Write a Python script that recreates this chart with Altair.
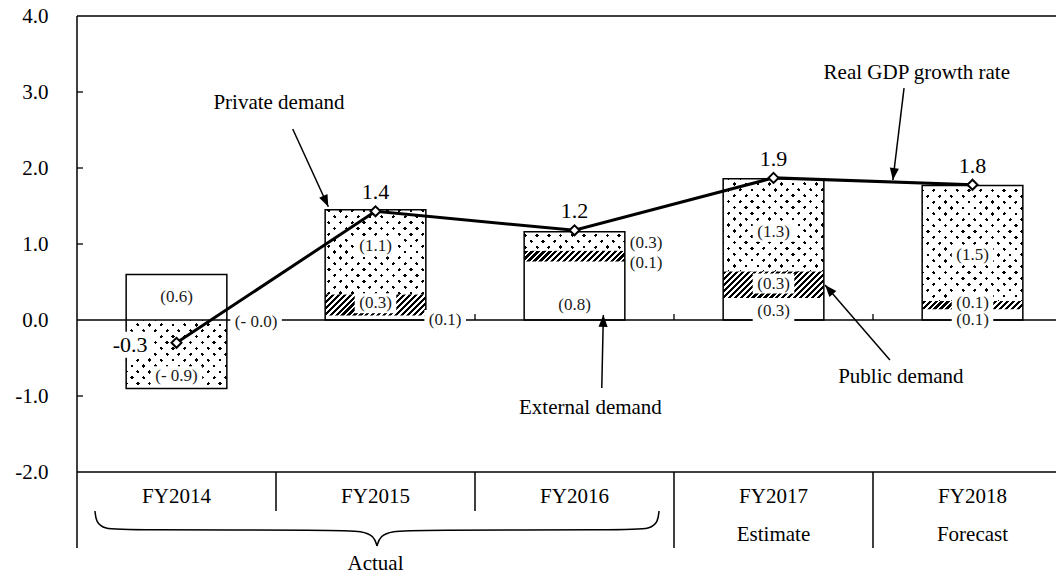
import math
import altair as alt
import pandas as pd

# ---------------- data ----------------
years = ["FY2014", "FY2015", "FY2016", "FY2017", "FY2018"]
sublabels = ["", "", "", "Estimate", "Forecast"]
external = [0.60, 0.06, 0.77, 0.29, 0.14]
public = [0.00, 0.28, 0.14, 0.35, 0.11]
private = [-0.90, 1.11, 0.25, 1.22, 1.52]
gdp = [-0.30, 1.43, 1.18, 1.87, 1.78]
gdp_text = ["-0.3", "1.4", "1.2", "1.9", "1.8"]

lab_year = [0, 0, 0, 1, 1, 1, 2, 2, 2, 3, 3, 3, 4, 4, 4]
lab_text = ["(0.6)", "(- 0.9)", "(- 0.0)", "(1.1)", "(0.3)", "(0.1)", "(0.3)", "(0.1)",
            "(0.8)", "(1.3)", "(0.3)", "(0.3)", "(1.5)", "(0.1)", "(0.1)"]
lab_y = [0.30, -0.74, -0.03, 0.97, 0.22, 0.0, 1.01, 0.75, 0.20, 1.16, 0.48, 0.12, 0.86, 0.22, 0.0]
lab_dx = [0, 0, 0.40, 0, 0, 0.35, 0.36, 0.36, 0, 0, 0, 0, 0, 0, 0]
lab_box = [False, True, True, True, True, True, False, False, False, True, True, True, True, True, True]

ann_text = ["Private demand", "Real GDP growth rate", "External demand", "Public demand"]
ann_x = [0.515, 3.72, 2.08, 3.64]
ann_y = [2.86, 3.25, -1.16, -0.75]
arr_x0 = [0.584, 3.656, 2.137, 3.585]
arr_y0 = [2.513, 3.05, -0.895, -0.526]
arr_x1 = [0.763, 3.600, 2.145, 3.259]
arr_y1 = [1.49, 1.842, 0.066, 0.46]

# ---------------- geometry ----------------
FONT = "Liberation Serif"
PX_X = 199.0
PX_Y = 76.0
W_PLOT = 979
H_PLOT = 532
XMIN = -0.5
XMAX = XMIN + W_PLOT / PX_X
HALF = 0.253
BAR_W_PX = 2 * HALF * PX_X

xs = alt.Scale(domain=[XMIN, XMAX], nice=False, zero=False)
ys = alt.Scale(domain=[-3, 4], nice=False, zero=False)

Y_AXIS = alt.Axis(
    values=[-2, -1, 0, 1, 2, 3, 4],
    labelExpr="(datum.value < 0 ? '-' : '') + format(abs(datum.value), '.1f')",
    labelFont=FONT, labelFontSize=21, labelColor="black",
    ticks=False, domain=False, grid=False, labelPadding=29, title=None,
)


def X(f):
    return alt.X(f, type="quantitative", scale=xs, axis=None)


def Y(f):
    return alt.Y(f, type="quantitative", scale=ys, axis=Y_AXIS, title=None)


def px2x(px):
    return (px - 77) / PX_X - 0.5


def px2y(py):
    return (320 - py) / PX_Y


def stripe_gradient(Wpx, Hpx, period, width, slope, on, off, phase):
    S = Wpx + Hpx
    k = S / (Wpx + Hpx * Hpx / Wpx)
    if slope == "/":
        x1, y1, x2, y2 = 0, 0, k, k * Hpx / Wpx
    else:
        x1, y1, x2, y2 = 0, 1, k, 1 - k * Hpx / Wpx
    P = period * math.sqrt(2)
    wd = width * math.sqrt(2)
    stops = [(0.0, off)]
    a = phase
    while a < S:
        o1 = a / S
        o2 = min((a + wd) / S, 1.0)
        stops += [(o1, off), (o1, on), (o2, on), (o2, off)]
        a += P
    stops.append((1.0, off))
    return alt.LinearGradient(
        gradient="linear",
        stops=[alt.GradientStop(offset=o, color=c) for o, c in stops],
        x1=x1, y1=y1, x2=x2, y2=y2,
    )


layers = []

# y axis carrier (first layer)
axis_df = pd.DataFrame({"y": [-2, 4], "x": [XMIN, XMIN]})
layers.append(alt.Chart(axis_df).mark_point(opacity=0).encode(x=X("x"), y=Y("y")))

# ---------------- segments / textures ----------------
segs = []
for i in range(5):
    e, p, v = external[i], public[i], private[i]
    segs.append(dict(i=i, kind="external", y0=0.0, y1=e))
    segs.append(dict(i=i, kind="public", y0=e, y1=e + p))
    if v < 0:
        segs.append(dict(i=i, kind="private", y0=0.0, y1=v))
    else:
        segs.append(dict(i=i, kind="private", y0=e + p, y1=e + p + v))

for s in segs:
    h = abs(s["y1"] - s["y0"]) * PX_Y
    if h < 1 or s["kind"] == "external":
        continue
    df = pd.DataFrame([{"xa": s["i"] - HALF, "xb": s["i"] + HALF, "ya": s["y0"], "yb": s["y1"]}])
    enc = dict(x=X("xa"), x2="xb", y=Y("ya"), y2="yb")
    if s["kind"] == "public":
        g = stripe_gradient(BAR_W_PX, h, 4.2, 2.3, "/", "black", "white", 1.0)
        layers.append(alt.Chart(df).mark_rect(fill=g).encode(**enc))
    else:
        gA = stripe_gradient(BAR_W_PX, h, 8.3, 2.5, "/", "black", "white", 3.0)
        gB = stripe_gradient(BAR_W_PX, h, 8.3, 2.5, "\\", "rgba(255,255,255,0)", "white", 3.0)
        layers.append(alt.Chart(df).mark_rect(fill=gA).encode(**enc))
        layers.append(alt.Chart(df).mark_rect(fill=gB).encode(**enc))

# bar outlines
outl = []
for i in range(5):
    vals = [s["y0"] for s in segs if s["i"] == i] + [s["y1"] for s in segs if s["i"] == i]
    outl.append({"xa": i - HALF, "xb": i + HALF, "ya": min(vals), "yb": max(vals)})
layers.append(
    alt.Chart(pd.DataFrame(outl)).mark_rect(fillOpacity=0, stroke="black", strokeWidth=1.5)
    .encode(x=X("xa"), x2="xb", y=Y("ya"), y2="yb")
)

# ---------------- frame lines ----------------
hlines = pd.DataFrame({"xa": [XMIN] * 3, "xb": [XMAX] * 3, "y": [4.0, 0.0, -2.0]})
layers.append(alt.Chart(hlines).mark_rule(color="black", strokeWidth=1.5)
              .encode(x=X("xa"), x2="xb", y=Y("y")))
vlines = pd.DataFrame({
    "x": [XMIN, 0.5, 1.5, 2.5, 3.5],
    "ya": [4.0, -2.0, -2.0, -2.0, -2.0],
    "yb": [-3.0, px2y(511), px2y(511), -3.0, -3.0],
})
layers.append(alt.Chart(vlines).mark_rule(color="black", strokeWidth=1.5)
              .encode(x=X("x"), y=Y("ya"), y2="yb"))
yticks = pd.DataFrame({"y": [3, 2, 1, -1], "xa": [XMIN] * 4, "xb": [XMIN + 6 / PX_X] * 4})
layers.append(alt.Chart(yticks).mark_rule(color="black", strokeWidth=1.3)
              .encode(x=X("xa"), x2="xb", y=Y("y")))
zticks = pd.DataFrame({"x": [0.5, 1.5, 2.5, 3.5], "ya": [0.0] * 4, "yb": [6 / PX_Y] * 4})
layers.append(alt.Chart(zticks).mark_rule(color="black", strokeWidth=1.3)
              .encode(x=X("x"), y=Y("ya"), y2="yb"))

# ---------------- component labels ----------------
CW = {"(": 0.333, ")": 0.333, ".": 0.25, "-": 0.333, " ": 0.25}


def text_w(t, fs):
    return sum(CW.get(c, 0.5) for c in t) * fs


rows = []
for yi, t, yy, dx, bx in zip(lab_year, lab_text, lab_y, lab_dx, lab_box):
    cx = yi + dx
    w = text_w(t, 17) + 9
    rows.append({"x": cx, "y": yy, "t": t, "box": bx,
                 "xa": cx - w / 2 / PX_X, "xb": cx + w / 2 / PX_X,
                 "ya": yy - 10 / PX_Y, "yb": yy + 10 / PX_Y})
labdf = pd.DataFrame(rows)

# white box behind the first GDP label (left of its point)
g0w = text_w(gdp_text[0], 22) + 6
g0 = {"xa": 0 - (29 + g0w) / PX_X, "xb": 0 - 25 / PX_X,
      "ya": gdp[0] - 2 / PX_Y - 13 / PX_Y, "yb": gdp[0] - 2 / PX_Y + 13 / PX_Y}
boxdf = pd.concat([labdf[labdf["box"]][["xa", "xb", "ya", "yb"]], pd.DataFrame([g0])])
layers.append(
    alt.Chart(boxdf).mark_rect(fill="white")
    .encode(x=X("xa"), x2="xb", y=Y("ya"), y2="yb")
)
layers.append(
    alt.Chart(labdf).mark_text(font=FONT, fontSize=17, color="#1a1a1a", baseline="middle")
    .encode(x=X("x"), y=Y("y"), text="t:N")
)

# ---------------- GDP line ----------------
gdf = pd.DataFrame({"i": list(range(5)), "g": gdp, "t": gdp_text})
layers.append(alt.Chart(gdf).mark_line(color="black", strokeWidth=3).encode(x=X("i"), y=Y("g")))
layers.append(
    alt.Chart(gdf).mark_point(shape="diamond", filled=True, fill="white", stroke="black",
                              strokeWidth=2, size=100, opacity=1)
    .encode(x=X("i"), y=Y("g"))
)
layers.append(
    alt.Chart(gdf.iloc[:1]).mark_text(font=FONT, fontSize=22, color="black", align="right",
                                      baseline="middle", dx=-29, dy=2)
    .encode(x=X("i"), y=Y("g"), text="t:N")
)
layers.append(
    alt.Chart(gdf.iloc[1:]).mark_text(font=FONT, fontSize=22, color="black", align="center",
                                      baseline="middle", dy=-19)
    .encode(x=X("i"), y=Y("g"), text="t:N")
)

# ---------------- annotations ----------------
arr = pd.DataFrame({"x0": arr_x0, "y0": arr_y0, "x1": arr_x1, "y1": arr_y1})
arr["ang"] = [
    math.degrees(math.atan2((b - a) * PX_X, (d - c) * PX_Y)) % 360
    for a, b, c, d in zip(arr_x0, arr_x1, arr_y0, arr_y1)
]
layers.append(alt.Chart(arr).mark_rule(color="black", strokeWidth=1.5)
              .encode(x=X("x0"), x2="x1", y=Y("y0"), y2="y1"))
layers.append(
    alt.Chart(arr).mark_point(shape="M0,0L0.42,1.1L-0.42,1.1Z", filled=True, color="black",
                              size=475, opacity=1)
    .encode(x=X("x1"), y=Y("y1"), angle=alt.Angle("ang:Q", scale=None))
)
adf = pd.DataFrame({"x": ann_x, "y": ann_y, "t": ann_text})
layers.append(
    alt.Chart(adf).mark_text(font=FONT, fontSize=21, color="black", baseline="middle")
    .encode(x=X("x"), y=Y("y"), text="t:N")
)

# ---------------- category table ----------------
cat = pd.DataFrame({"i": list(range(5)), "t": years, "s": sublabels,
                    "y1": [px2y(497)] * 5, "y2": [px2y(535)] * 5})
layers.append(
    alt.Chart(cat).mark_text(font=FONT, fontSize=21, color="black", baseline="middle")
    .encode(x=X("i"), y=Y("y1"), text="t:N")
)
layers.append(
    alt.Chart(cat).mark_text(font=FONT, fontSize=21, color="black", baseline="middle")
    .encode(x=X("i"), y=Y("y2"), text="s:N")
)

# brace
left_px = [(95, 511), (96, 522), (104, 529), (125, 530), (340, 530), (362, 531), (374, 536), (377, 546)]
brace = []
for o, (bx, by) in enumerate(left_px):
    brace.append({"h": "L", "o": o, "x": px2x(bx), "y": px2y(by)})
    brace.append({"h": "R", "o": o, "x": px2x(754 - bx), "y": px2y(by)})
layers.append(
    alt.Chart(pd.DataFrame(brace)).mark_line(color="black", strokeWidth=1.5, interpolate="basis")
    .encode(x=X("x"), y=Y("y"), detail="h:N", order="o:Q")
)
act = pd.DataFrame({"x": [1.0], "y": [px2y(570)], "t": ["Actual"]})
layers.append(
    alt.Chart(act).mark_text(font=FONT, fontSize=21, color="black", baseline="alphabetic")
    .encode(x=X("x"), y=Y("y"), text="t:N")
)

chart = (
    alt.layer(*layers)
    .properties(
        width=W_PLOT, height=H_PLOT,
        padding={"left": 69, "top": 8, "right": 0, "bottom": 25},
        autosize=alt.AutoSizeParams(type="none"),
        background="white",
    )
    .configure_view(stroke=None)
)
chart.save("out.html", embed_options={"renderer": "svg", "actions": False})
